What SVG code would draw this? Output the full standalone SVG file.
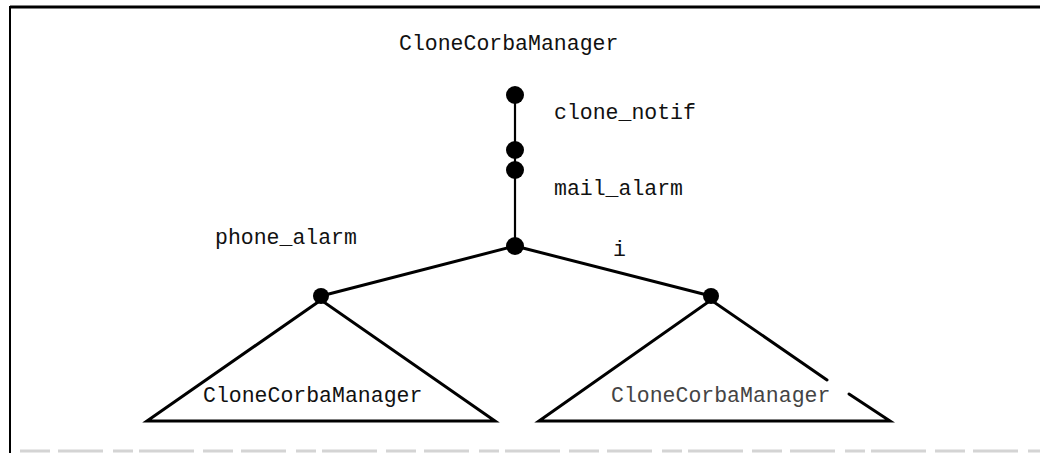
<svg xmlns="http://www.w3.org/2000/svg" width="1040" height="453" viewBox="0 0 1040 453">
<style>
  .lbl { font-family: "Liberation Mono", "Courier New", monospace; font-size: 21.5px; fill: #111; }
  .light { fill: #444; }
  .edge { stroke: #000; stroke-width: 3; fill: none; stroke-linecap: round; }
  .stem { stroke: #000; stroke-width: 2.2; fill: none; }
  .tri { stroke: #000; stroke-width: 3; fill: none; stroke-linejoin: miter; stroke-linecap: round; }
  .dot { fill: #000; }
</style>
<rect x="0" y="0" width="1040" height="453" fill="#fff"/>
<g id="frame">
  <line x1="10" y1="7" x2="1040" y2="7" stroke="#000" stroke-width="3"/>
  <line x1="10" y1="6" x2="10" y2="453" stroke="#000" stroke-width="2"/>
  <line x1="20" y1="451" x2="1040" y2="451" stroke="#d4d4d4" stroke-width="3" stroke-dasharray="30 8 45 10 20 6 55 9"/>
</g>
<g id="connectors">
  <line class="stem" x1="515" y1="95" x2="515" y2="246"/>
  <line class="edge" x1="515" y1="246" x2="321" y2="296"/>
  <line class="edge" x1="515" y1="246" x2="711" y2="296"/>
</g>
<g id="root">
  <text class="lbl" x="399" y="50">CloneCorbaManager</text>
</g>
<g id="clone_notif">
  <circle class="dot" cx="515" cy="95" r="9"/>
  <circle class="dot" cx="515" cy="150" r="9"/>
  <text class="lbl" x="554" y="119">clone_notif</text>
</g>
<g id="mail_alarm">
  <circle class="dot" cx="515" cy="170" r="9"/>
  <text class="lbl" x="554" y="195">mail_alarm</text>
</g>
<g id="junction">
  <circle class="dot" cx="515" cy="246" r="9"/>
  <text class="lbl" x="215" y="244">phone_alarm</text>
  <text class="lbl" x="613" y="256">i</text>
</g>
<g id="left_subtree">
  <circle class="dot" cx="321" cy="296" r="8"/>
  <polygon class="tri" points="321,300 147,421 495,421"/>
  <text class="lbl" x="203" y="402">CloneCorbaManager</text>
</g>
<g id="right_subtree">
  <circle class="dot" cx="711" cy="296" r="8"/>
  <polyline class="tri" points="827,380 711,300 539,421 890,421 849,394"/>
  <text class="lbl light" x="611" y="402">CloneCorbaManager</text>
</g>
</svg>
